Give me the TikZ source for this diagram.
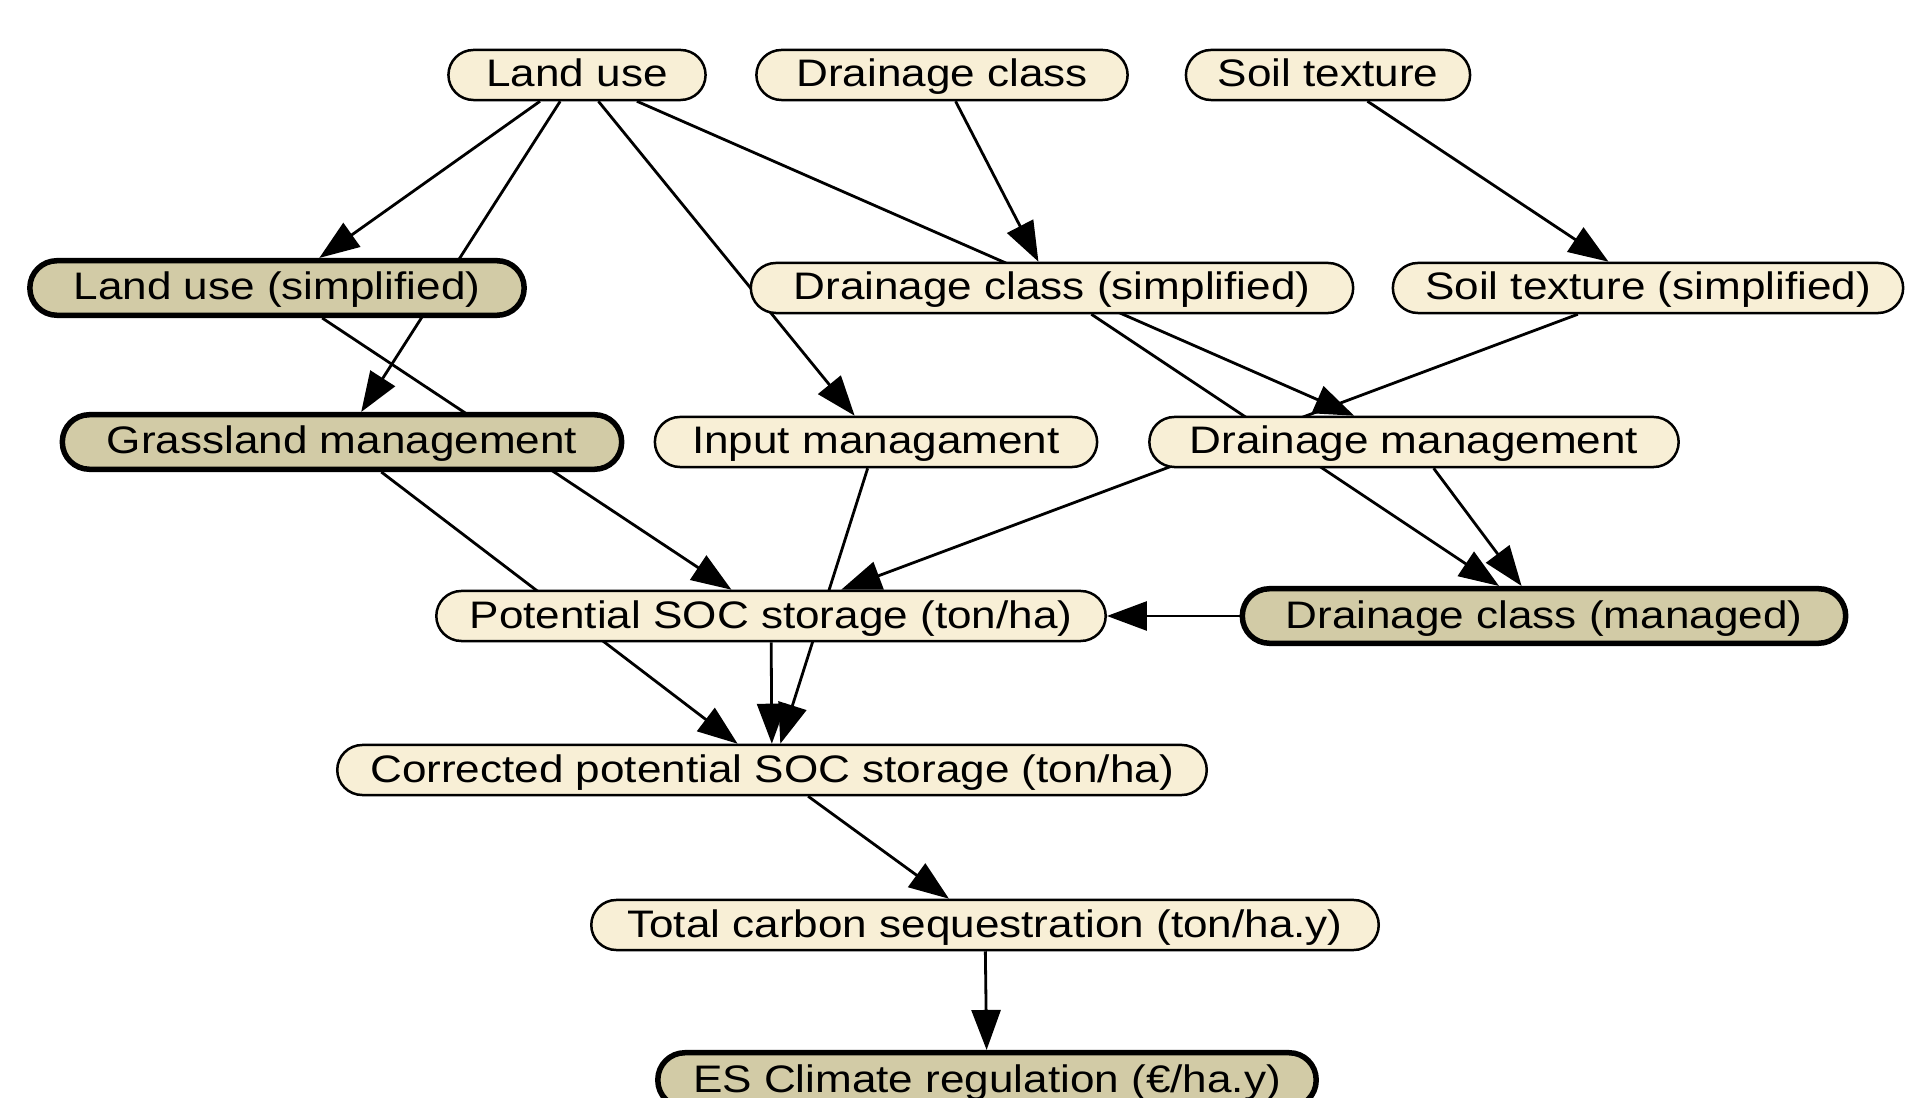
\documentclass[tikz,border=0pt]{standalone}
\usepackage{fontspec}
\setmainfont{Liberation Sans}[FakeStretch=1.15]
\usetikzlibrary{arrows.meta}
\pgfdeclarelayer{bg}
\pgfsetlayers{bg,main}
\definecolor{lightfill}{HTML}{F8EFD6}
\definecolor{darkfill}{HTML}{D2CBA6}
\tikzset{
  var/.style={draw=black, fill=lightfill, rectangle, rounded corners=0.25cm,
    line width=0.025cm, minimum height=0.50cm, inner sep=0pt,
    text height=0.29cm, text depth=0.05cm,
    font=\fontsize{10.9pt}{12pt}\selectfont},
  key/.style={var, fill=darkfill, line width=0.055cm, minimum height=0.545cm, rounded corners=0.27cm},
  link/.style={line width=0.028cm, -{Triangle[length=0.40cm,width=0.29cm]}}
}
\begin{document}
\begin{tikzpicture}[x=0.01cm,y=-0.01cm]
\useasboundingbox (0,0) rectangle (1906,1098);
\clip (0,0) rectangle (1906,1098);
% nodes
\node[var, minimum width=2.57cm] (lu)  at (577,75)  {Land use};
\node[var, minimum width=3.71cm] (dc)  at (942,75)  {Drainage class};
\node[var, minimum width=2.84cm] (st)  at (1328,75) {Soil texture};
\node[key, minimum width=4.94cm] (lus) at (277,288) {Land use (simplified)};
\node[var, minimum width=6.02cm] (dcs) at (1052,288) {Drainage class (simplified)};
\node[var, minimum width=5.10cm] (sts) at (1648,288) {Soil texture (simplified)};
\node[key, minimum width=5.59cm] (gm)  at (342,442) {Grassland management};
\node[var, minimum width=4.42cm] (im)  at (876,442) {Input managament};
\node[var, minimum width=5.29cm] (dm)  at (1414,442) {Drainage management};
\node[var, minimum width=6.69cm] (pot) at (771,616) {Potential SOC storage (ton/ha)};
\node[key, minimum width=6.03cm] (dcm) at (1544,616) {Drainage class (managed)};
\node[var, minimum width=8.69cm] (cor) at (772,770) {Corrected potential SOC storage (ton/ha)};
\node[var, minimum width=7.87cm] (tot) at (985,925) {Total carbon sequestration (ton/ha.y)};
\node[key, minimum width=6.58cm] (es)  at (987,1080) {ES Climate regulation (€/ha.y)};
% edges
\begin{pgfonlayer}{bg}
\draw[link] (lu) -- (lus);
\draw[link] (lu) -- (gm);
\draw[link] (lu) -- (im);
\draw[link] (lu) -- (dm);
\draw[link] (dc) -- (dcs);
\draw[link] (st) -- (sts);
\draw[link] (lus) -- (pot);
\draw[link] (gm) -- (cor);
\draw[link] (im) -- (cor);
\draw[link] (pot) -- (cor);
\draw[link] (dcs) -- (dcm);
\draw[link] (sts) -- (pot);
\draw[link] (dm) -- (dcm);
\draw[link] (dcm) -- (pot);
\draw[link] (cor) -- (tot);
\draw[link] (tot) -- (es);
\end{pgfonlayer}
\end{tikzpicture}
\end{document}
